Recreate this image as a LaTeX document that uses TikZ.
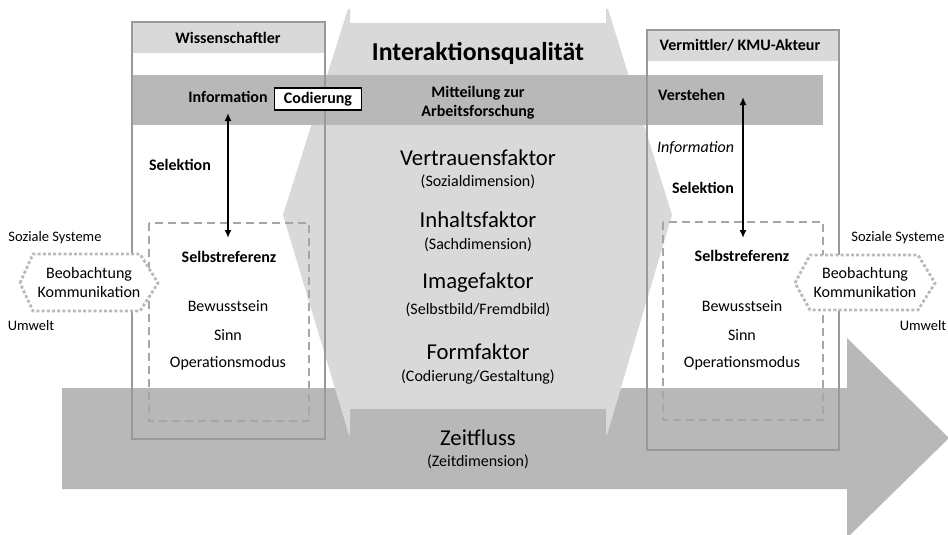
\documentclass[tikz,border=0pt]{standalone}
\usepackage{fontspec}
\setmainfont{Carlito}
\usetikzlibrary{arrows.meta}
\newcommand{\qualityFill}{black!15}
\newcommand{\flowFill}{black!28}
\newcommand{\boxLine}{black!40}
\newcommand{\refLine}{black!35}
\newcommand{\obsLine}{black!27}
\pgfmathsetmacro{\midX}{478}
\pgfmathsetmacro{\leftX}{228}
\pgfmathsetmacro{\rightX}{743}
\tikzset{
    txt/.style={inner sep=0pt,font=\fontsize{16}{19}\selectfont},
    txtbold/.style={inner sep=0pt,font=\fontsize{16}{19}\selectfont\bfseries},
    factor/.style={inner sep=0pt,font=\fontsize{22.7}{26}\selectfont},
    dimension/.style={inner sep=0pt,font=\fontsize{16}{19}\selectfont},
    side/.style={inner sep=0pt,font=\fontsize{14.5}{17}\selectfont},
    actorbox/.style={draw=\boxLine,line width=2.5pt},
    refbox/.style={draw=\refLine,line width=2.2pt,dash pattern=on 8pt off 5pt},
    obsshape/.style={draw=\obsLine,fill=white,line width=2.8pt,dash pattern=on 3pt off 2.2pt},
    selarrow/.style={{Latex[length=8pt,width=7pt]}-{Latex[length=8pt,width=7pt]},line width=2.3pt}
}

\begin{document}
\begin{tikzpicture}[x=1pt,y=-1pt]
\useasboundingbox(0,0) rectangle (948,535);
\clip(0,0) rectangle (948,535);

% time flow
\fill[\flowFill](62,388) -- (847,388) -- (847,338) -- (949,438) --
    (847,538) -- (847,489) -- (62,489) -- cycle;

% interaction quality
\fill[\qualityFill](348,9) -- (350,9) -- (350,23) -- (606,23) -- (606,9) --
    (608,9) -- (672,215) -- (607,435) -- (349,435) -- (283,215) -- cycle;
\fill[\flowFill](350,409) rectangle (606,489);

% message band
\fill[\flowFill](132,75) rectangle (823,125);

% actors
\fill[\qualityFill](132,22) rectangle (325,53);
\fill[\qualityFill](647,30) rectangle (839,61);
\draw[actorbox](132,22) rectangle (325,439);
\draw[actorbox](647,30) rectangle (839,450);
\draw[refbox](149,223) rectangle (309,421);
\draw[refbox](663,222) rectangle (823,420);

% observation
\filldraw[obsshape](20,283) -- (33,254) -- (140,254) -- (158,283) --
    (140,311) -- (33,311) -- cycle;
\filldraw[obsshape](795,283) -- (810,255) -- (918,255) -- (935,283) --
    (918,310) -- (810,310) -- cycle;

% headings
\node[txtbold](scientist) at (\leftX,38){Wissenschaftler};
\node[txtbold](mediator) at (740,45){Vermittler/ KMU-Akteur};
\node[inner sep=0pt,font=\fontsize{25.8}{30}\selectfont\bfseries](quality)
    at (\midX,53){Interaktionsqualität};

% band texts
\node[txtbold](info) at (\leftX,97){Information};
\node[txtbold,draw=black,fill=white,line width=1.2pt,minimum width=87pt,
    minimum height=22pt](coding) at (318,99){Codierung};
\node[txtbold,align=center](message) at (\midX,103){Mitteilung zur\\Arbeitsforschung};
\node[txtbold,anchor=west](understand) at (658,95){Verstehen};

% selection
\node[txtbold](lselect) at (180,165){Selektion};
\node[inner sep=0pt,font=\fontsize{16}{19}\selectfont\itshape,anchor=west](rinfo)
    at (657,148){Information};
\node[txtbold](rselect) at (703,188){Selektion};
\coordinate(lTop) at (\leftX,113);
\coordinate(lBottom) at (\leftX,238);
\coordinate(rTop) at (\rightX,97);
\coordinate(rBottom) at (\rightX,238);
\draw[selarrow](lTop) -- (lBottom);
\draw[selarrow](rTop) -- (rBottom);

% self reference
\node[txtbold](lself) at (229,257){Selbstreferenz};
\node[txt](lconsc) at (\leftX,306){Bewusstsein};
\node[txt](lsense) at (\leftX,335){Sinn};
\node[txt](lmode) at (\leftX,363){Operationsmodus};
\node[txtbold](rself) at (742,256){Selbstreferenz};
\node[txt](rconsc) at (742,306){Bewusstsein};
\node[txt](rsense) at (742,335){Sinn};
\node[txt](rmode) at (742,363){Operationsmodus};

% factors
\node[factor](trust) at (\midX,158){Vertrauensfaktor};
\node[dimension](trustdim) at (\midX,182){(Sozialdimension)};
\node[factor](content) at (\midX,220){Inhaltsfaktor};
\node[dimension](contentdim) at (\midX,245){(Sachdimension)};
\node[factor](image) at (\midX,283){Imagefaktor};
\node[dimension](imagedim) at (\midX,310){(Selbstbild/Fremdbild)};
\node[factor](form) at (\midX,352){Formfaktor};
\node[dimension](formdim) at (\midX,377){(Codierung/Gestaltung)};
\node[factor](time) at (\midX,438){Zeitfluss};
\node[dimension](timedim) at (\midX,462){(Zeitdimension)};

% environment
\node[side](lsocial) at (55,238){Soziale Systeme};
\node[side](lenv) at (31,326){Umwelt};
\node[txt,align=center](lobs) at (89,283){Beobachtung\\Kommunikation};
\node[side](rsocial) at (898,238){Soziale Systeme};
\node[side](renv) at (923,326){Umwelt};
\node[txt,align=center](robs) at (865,283){Beobachtung\\Kommunikation};

\end{tikzpicture}
\end{document}
